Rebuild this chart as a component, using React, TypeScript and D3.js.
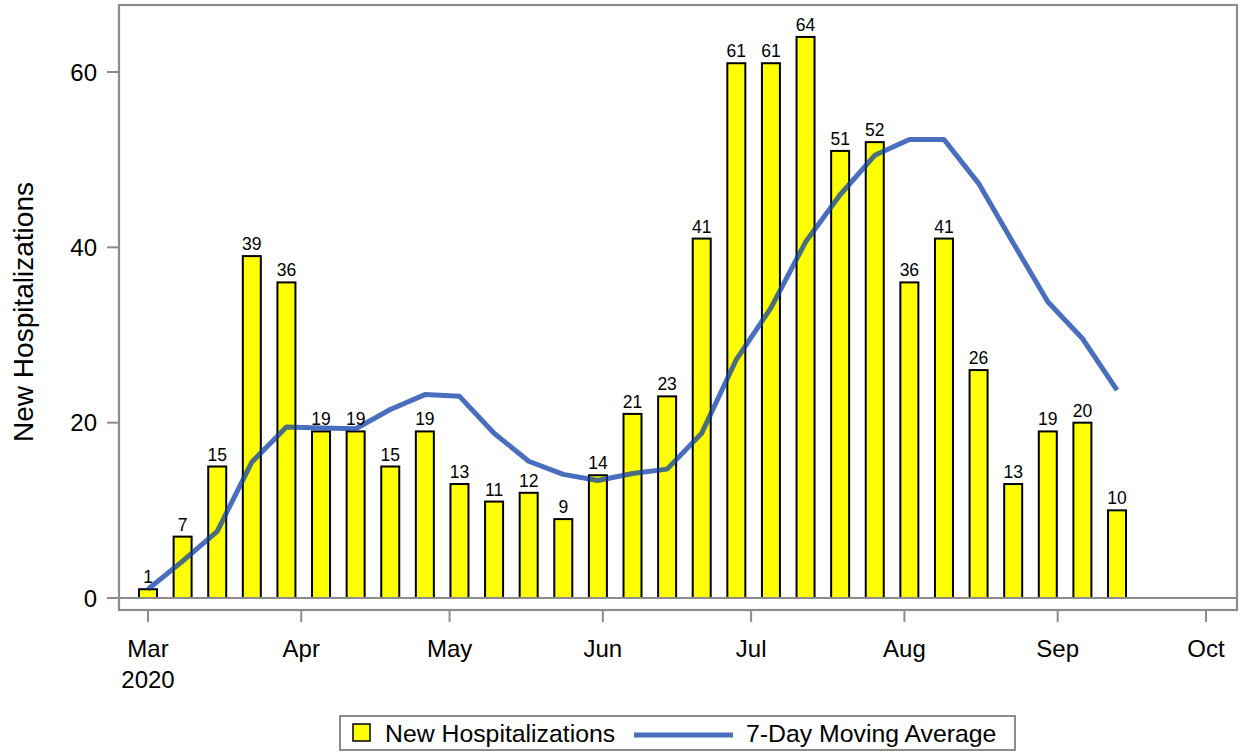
import React from "react";
import * as d3 from "d3";

const weekStarts: string[] = [
  "2020-03-01","2020-03-08","2020-03-15","2020-03-22","2020-03-29",
  "2020-04-05","2020-04-12","2020-04-19","2020-04-26","2020-05-03",
  "2020-05-10","2020-05-17","2020-05-24","2020-05-31","2020-06-07",
  "2020-06-14","2020-06-21","2020-06-28","2020-07-05","2020-07-12",
  "2020-07-19","2020-07-26","2020-08-02","2020-08-09","2020-08-16",
  "2020-08-23","2020-08-30","2020-09-06","2020-09-13"
];
const newHospitalizations: number[] = [
  1, 7, 15, 39, 36, 19, 19, 15, 19, 13, 11, 12, 9, 14, 21, 23, 41,
  61, 61, 64, 51, 52, 36, 41, 26, 13, 19, 20, 10
];
const movingAverage: number[] = [
  1.0, 4.2, 7.6, 15.5, 19.5, 19.4, 19.3, 21.5, 23.2, 23.0, 18.8, 15.6,
  14.1, 13.4, 14.2, 14.7, 18.8, 27.2, 33.1, 40.6, 46.0, 50.5, 52.3,
  52.3, 47.3, 40.5, 33.8, 29.6, 23.7
];
const yTicks: number[] = [0, 20, 40, 60];
const xTickDates: string[] = [
  "2020-03-01","2020-04-01","2020-05-01","2020-06-01",
  "2020-07-01","2020-08-01","2020-09-01","2020-10-01"
];
const xTickLabels: string[] = ["Mar", "Apr", "May", "Jun", "Jul", "Aug", "Sep", "Oct"];
const yTitle = "New Hospitalizations";
const legendBar = "New Hospitalizations";
const legendLine = "7-Day Moving Average";

const FONT = "'Liberation Sans', Arial, sans-serif";
const GRAY = "#8c8c8c";
const LINE = "rgb(13,61,168)";

export default function App() {
  const W = 1241, H = 753;
  const frame = { l: 119, r: 1237, t: 5, b: 610 };
  const parse = d3.timeParse("%Y-%m-%d");
  const dates = weekStarts.map((s) => parse(s) as Date);
  const x = d3.scaleTime()
    .domain([parse("2020-03-01") as Date, parse("2020-10-01") as Date])
    .range([148, 1206]);
  const y = d3.scaleLinear().domain([0, 60]).range([598, 72]);
  const barW = 18;

  const line = d3.line<number>()
    .x((_, i) => x(dates[i]))
    .y((d) => y(d));

  return (
    <svg width={W} height={H} style={{ position: "absolute", left: 0, top: 0, background: "#fff" }}
      fontFamily={FONT}>
      <rect x={0} y={0} width={W} height={H} fill="#fff" />
      {newHospitalizations.map((v, i) => (
        <rect key={"b" + i} x={x(dates[i]) - barW / 2} y={y(v)} width={barW} height={y(0) - y(v)}
          fill="#ffff00" stroke="#000" strokeWidth={2} />
      ))}
      <line x1={frame.l} x2={frame.r} y1={y(0)} y2={y(0)} stroke={GRAY} strokeWidth={2} />
      <path d={line(movingAverage) || ""} fill="none" stroke={LINE} strokeOpacity={0.75}
        strokeWidth={5} strokeLinejoin="round" />
      {newHospitalizations.map((v, i) => (
        <text key={"t" + i} x={x(dates[i])} y={y(v) - 6} textAnchor="middle" fontSize={17.5} fill="#000">{v}</text>
      ))}
      <rect x={frame.l} y={frame.t} width={frame.r - frame.l} height={frame.b - frame.t}
        fill="none" stroke={GRAY} strokeWidth={2.2} />
      {yTicks.map((t) => (
        <g key={"y" + t}>
          <line x1={frame.l - 12} x2={frame.l} y1={y(t)} y2={y(t)} stroke={GRAY} strokeWidth={2} />
          <text x={97} y={y(t)} dy="0.36em" textAnchor="end" fontSize={24} fill="#000">{t}</text>
        </g>
      ))}
      <text transform={`translate(33,312) rotate(-90)`} textAnchor="middle"
        fontSize={28} fill="#000">{yTitle}</text>
      {xTickDates.map((s, i) => {
        const xv = x(parse(s) as Date);
        return (
          <g key={"x" + s}>
            <line x1={xv} x2={xv} y1={frame.b} y2={frame.b + 12} stroke={GRAY} strokeWidth={2} />
            <text x={xv} y={657} textAnchor="middle" fontSize={24} fill="#000">{xTickLabels[i]}</text>
            {i === 0 && (
              <text x={xv} y={688} textAnchor="middle" fontSize={24} fill="#000">2020</text>
            )}
          </g>
        );
      })}
      <rect x={340} y={716} width={675} height={34} fill="#fff" stroke={GRAY} strokeWidth={2} />
      <rect x={353} y={724} width={17} height={17} fill="#ffff00" stroke="#000" strokeWidth={1.5} />
      <text x={385} y={742} fontSize={24.8} fill="#000">{legendBar}</text>
      <line x1={634} x2={733} y1={735} y2={735} stroke={LINE} strokeOpacity={0.75} strokeWidth={5} />
      <text x={746} y={742} fontSize={24.8} fill="#000">{legendLine}</text>
    </svg>
  );
}
